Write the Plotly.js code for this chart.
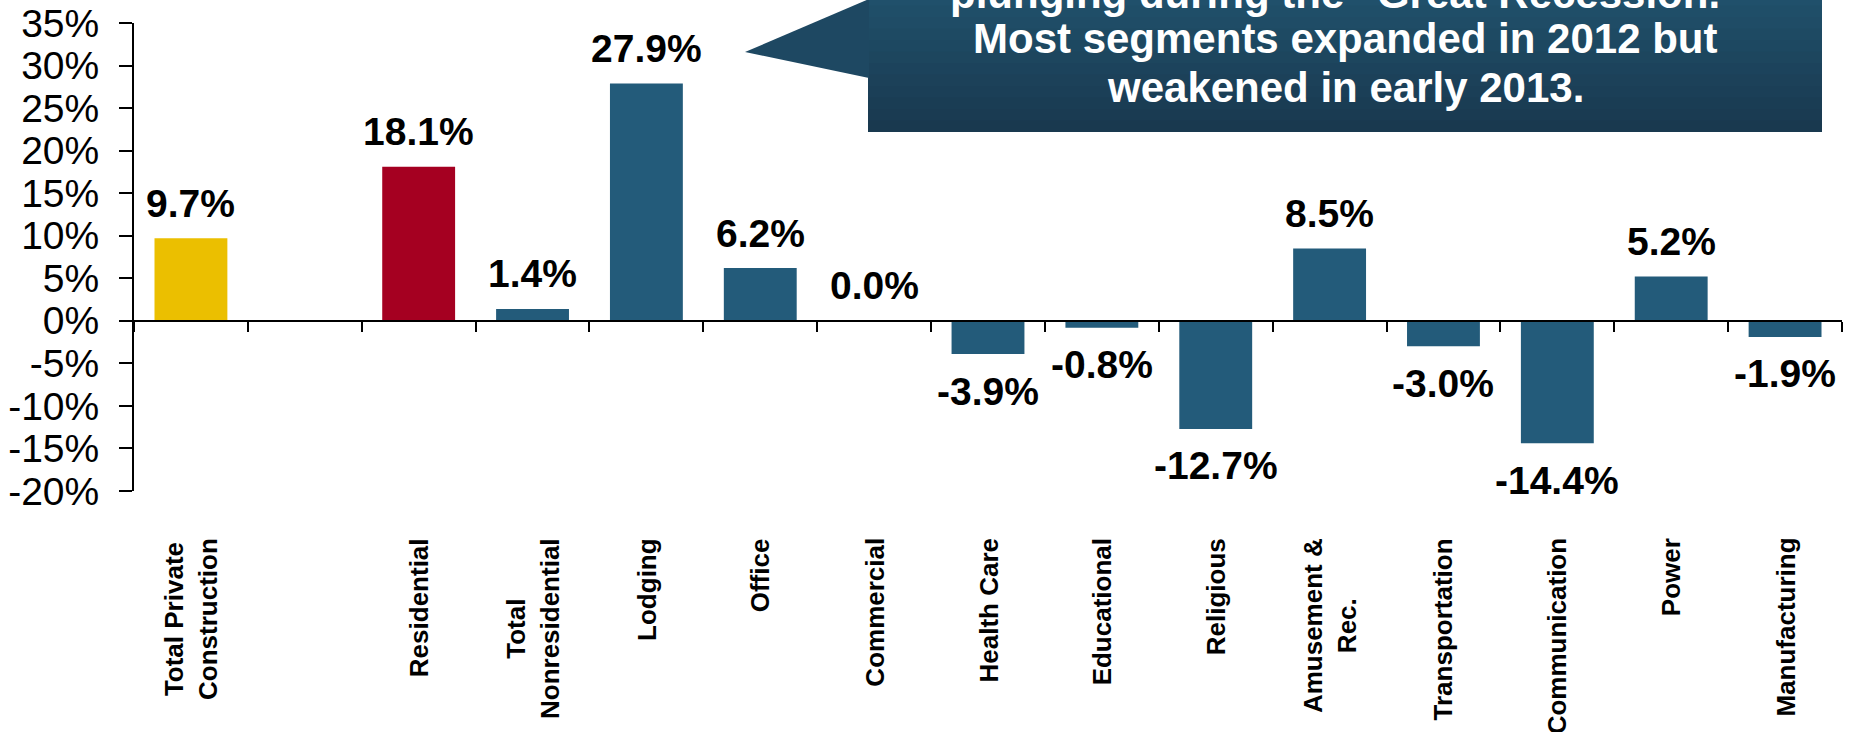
<!DOCTYPE html>
<html>
<head>
<meta charset="utf-8">
<script src="https://cdn.plot.ly/plotly-3.0.1.min.js"></script>
<style>html,body{margin:0;padding:0;background:#fff;}#chart{width:1849px;height:732px;}</style>
</head>
<body>
<div id="chart"></div>
<script>
// ---- data ----
const categories = ['Total Private<br>Construction', ' ', 'Residential', 'Total<br>Nonresidential', 'Lodging', 'Office', 'Commercial', 'Health Care', 'Educational', 'Religious', 'Amusement &<br>Rec.', 'Transportation', 'Communication', 'Power', 'Manufacturing'];
const values = [9.7, null, 18.1, 1.4, 27.9, 6.2, 0.0, -3.9, -0.8, -12.7, 8.5, -3.0, -14.4, 5.2, -1.9];
const yTickValues = [-20, -15, -10, -5, 0, 5, 10, 15, 20, 25, 30, 35];
const calloutLines = ['plunging during the \u201cGreat Recession.\u201d', 'Most segments expanded in 2012 but', 'weakened in early 2013.'];

// ---- styles ----
const YELLOW = '#EBBF00', RED = '#A50021', BLUE = '#235B7A';
const barColors = categories.map((c, i) => i === 0 ? YELLOW : (i === 2 ? RED : BLUE));
const FONT = 'Liberation Sans, Arial, sans-serif';
const yRange = [-20, 35];
const W = 1849, H = 732;
const M = {l: 134, r: 7, t: 23, b: 241};
const plotW = W - M.l - M.r, plotH = H - M.t - M.b;
const px2x = px => (px - M.l) / plotW;
const px2y = py => (H - M.b - py) / plotH;

const traces = [
  {type: 'bar', x: categories, y: values, marker: {color: barColors, line: {width: 0}}, hoverinfo: 'x+y', showlegend: false},
  {type: 'scatter', x: categories, y: values, xaxis: 'x2', mode: 'markers', marker: {opacity: 0}, hoverinfo: 'skip', showlegend: false}
];

const annotations = [];
// value labels
values.forEach((v, i) => {
  if (v === null) return;
  annotations.push({
    x: categories[i], y: v, xref: 'x', yref: 'y', showarrow: false,
    text: v.toFixed(1) + '%', yshift: v >= 0 ? 35 : -37, yanchor: 'middle',
    font: {family: FONT, size: 39, color: '#000', weight: 'bold'}
  });
});
// category labels (rotated, lines centred on each other)
categories.forEach((c, i) => {
  if (!c.trim()) return;
  annotations.push({
    x: c, xref: 'x', y: 0, yref: 'paper', yanchor: 'top', xanchor: 'center', yshift: -45,
    showarrow: false, textangle: -90, align: 'center', text: c,
    font: {family: FONT, size: 26, color: '#000', weight: 'bold'}
  });
});

// callout box (decoration)
const shapes = [];
const boxL = 868, boxR = 1822, boxT = -6, boxB = 132;
const colTop = [32, 80, 107], colBot = [25, 57, 79];
const nBands = 12;
for (let k = 0; k < nBands; k++) {
  const t = k / (nBands - 1);
  const c = colTop.map((a, j) => Math.round(a + (colBot[j] - a) * t));
  const y0 = boxT + (boxB - boxT) * k / nBands;
  const y1 = boxT + (boxB - boxT) * (k + 1) / nBands + (k < nBands - 1 ? 1 : 0);
  shapes.push({type: 'rect', xref: 'paper', yref: 'paper', x0: px2x(boxL), x1: px2x(boxR), y0: px2y(y1), y1: px2y(y0),
    fillcolor: 'rgb(' + c.join(',') + ')', line: {width: 0}, layer: 'above'});
}
shapes.push({type: 'path', xref: 'paper', yref: 'paper', layer: 'above',
  path: 'M ' + px2x(745) + ' ' + px2y(52) + ' L ' + px2x(boxL + 1) + ' ' + px2y(-1) + ' L ' + px2x(boxL + 1) + ' ' + px2y(78) + ' Z',
  fillcolor: 'rgb(30,72,98)', line: {width: 0}});

const lineCenters = [-7, 39, 88];
calloutLines.forEach((txt, i) => {
  annotations.push({
    xref: 'paper', yref: 'paper', x: px2x((boxL + boxR) / 2), y: px2y(lineCenters[i]),
    xanchor: 'center', yanchor: 'middle', showarrow: false, text: txt,
    font: {family: FONT, size: 42, color: '#fff', weight: 'bold'}
  });
});

const layout = {
  width: W, height: H,
  margin: M,
  paper_bgcolor: '#fff', plot_bgcolor: '#fff',
  showlegend: false,
  bargap: 0.36,
  font: {family: FONT, color: '#000'},
  xaxis: {
    type: 'category', categoryorder: 'array', categoryarray: categories,
    range: [-0.5, categories.length - 0.5], fixedrange: true,
    showline: false, showgrid: false, zeroline: false,
    ticks: '', showticklabels: false, automargin: false
  },
  xaxis2: {
    type: 'category', categoryorder: 'array', categoryarray: categories,
    overlaying: 'x', anchor: 'free',
    position: (0 - yRange[0]) / (yRange[1] - yRange[0]),
    range: [-0.5, categories.length - 0.5], fixedrange: true,
    showline: true, linecolor: '#000', linewidth: 2,
    ticks: 'outside', tickson: 'boundaries', ticklen: 10, tickwidth: 2, tickcolor: '#000',
    showticklabels: false, showgrid: false, zeroline: false, automargin: false
  },
  yaxis: {
    range: yRange, tickvals: yTickValues, ticktext: yTickValues.map(v => v + '%'),
    showline: true, linecolor: '#000', linewidth: 2, mirror: false,
    ticks: 'outside', ticklen: 13, tickwidth: 2, tickcolor: '#000',
    showgrid: false, zeroline: false, automargin: false, fixedrange: true,
    ticklabelstandoff: 12,
    tickfont: {family: FONT, size: 39, color: '#000'}
  },
  shapes: shapes,
  annotations: annotations
};

Plotly.newPlot('chart', traces, layout, {displayModeBar: false, staticPlot: true});
</script>
</body>
</html>
